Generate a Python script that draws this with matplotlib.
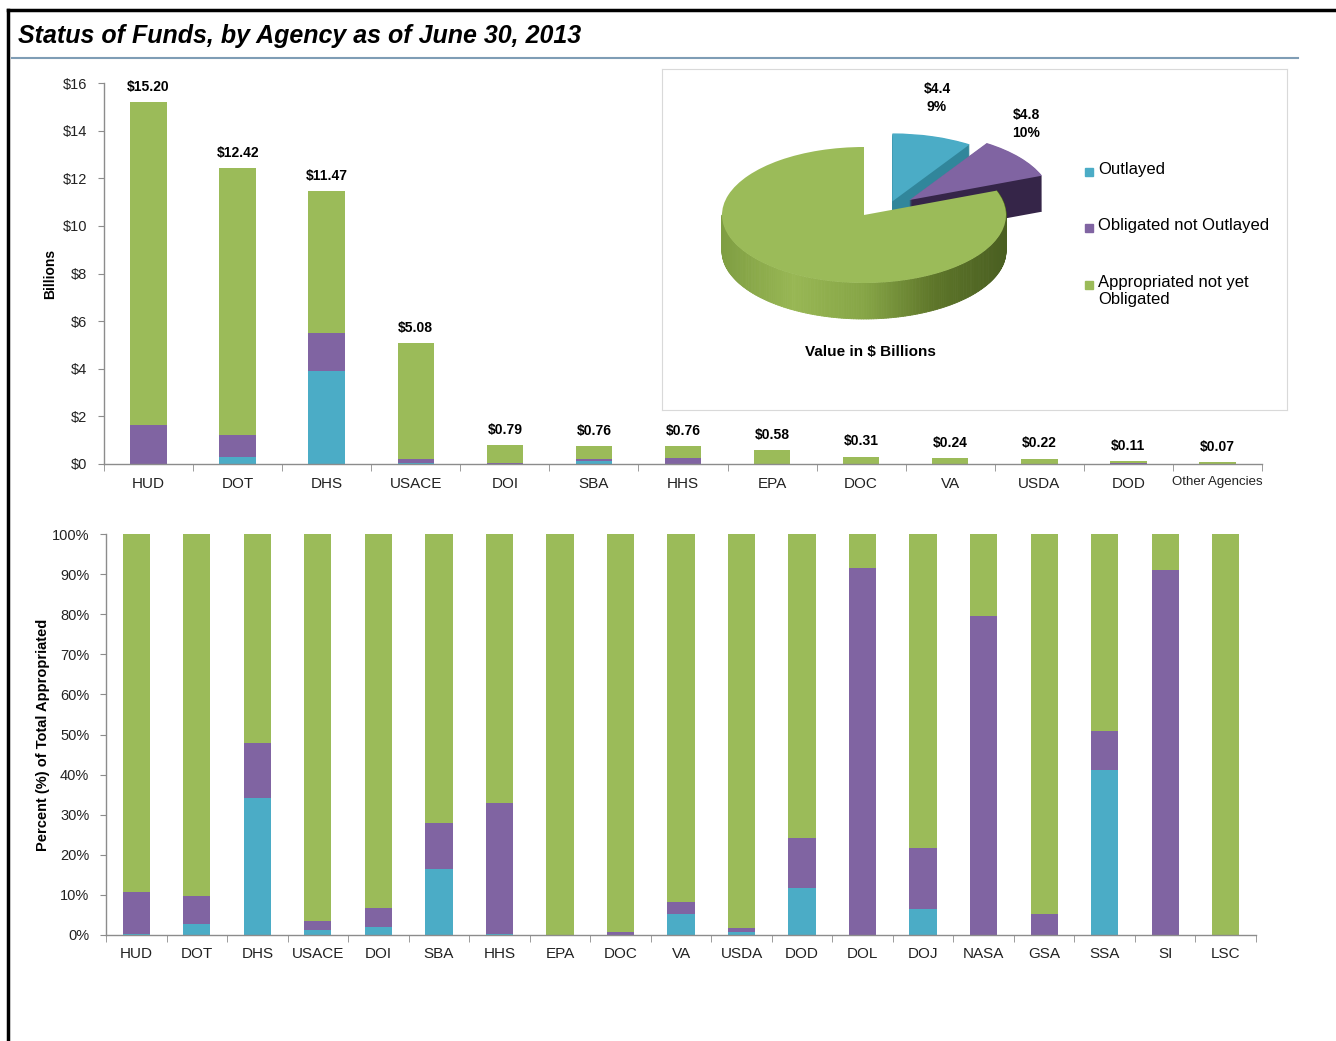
import numpy as np
import matplotlib
matplotlib.use("Agg")
import matplotlib.pyplot as plt
from matplotlib.patches import Wedge, Rectangle
from matplotlib.collections import PolyCollection
from matplotlib.lines import Line2D
from matplotlib.colors import LinearSegmentedColormap

plt.rcParams['font.family'] = ['Liberation Sans', 'DejaVu Sans']

# ---- data ----
top_agencies = ['HUD', 'DOT', 'DHS', 'USACE', 'DOI', 'SBA', 'HHS', 'EPA', 'DOC',
                'VA', 'USDA', 'DOD', 'Other Agencies']
top_total = [15.20, 12.42, 11.47, 5.08, 0.79, 0.76, 0.76, 0.58, 0.31, 0.24, 0.22, 0.11, 0.07]
top_outlayed = [0.02, 0.30, 3.90, 0.06, 0.02, 0.13, 0.0, 0.0, 0.0, 0.01, 0.0, 0.01, 0.0]
top_obligated = [1.63, 0.90, 1.60, 0.13, 0.04, 0.08, 0.25, 0.0, 0.0, 0.01, 0.0, 0.02, 0.0]

pct_agencies = ['HUD', 'DOT', 'DHS', 'USACE', 'DOI', 'SBA', 'HHS', 'EPA', 'DOC', 'VA',
                'USDA', 'DOD', 'DOL', 'DOJ', 'NASA', 'GSA', 'SSA', 'SI', 'LSC']
pct_outlayed = [0.3, 2.7, 34.2, 1.2, 2.0, 16.5, 0.3, 0.0, 0.0, 5.2,
                0.7, 11.7, 0.0, 6.4, 0.0, 0.0, 41.1, 0.0, 0.0]
pct_obligated = [10.4, 7.0, 13.7, 2.3, 4.7, 11.4, 32.6, 0.0, 0.7, 3.0,
                 1.0, 12.5, 91.5, 15.3, 79.5, 5.2, 9.8, 91.0, 0.0]

pie_labels = ['Outlayed', 'Obligated not Outlayed', 'Appropriated not yet\nObligated']
pie_values = [4.4, 4.8, 38.8]

c_out = '#4bacc6'
c_obl = '#8064a2'
c_app = '#9bbb59'
side_cols = ['#31869b', '#352548', '#6f8f35']
axis_col = '#8c8c8c'

W, H = 1336, 1041
fig = plt.figure(figsize=(W / 100, H / 100), dpi=100)


def rect(x0, y0, x1, y1):
    return [x0 / W, 1 - y1 / H, (x1 - x0) / W, (y1 - y0) / H]


# frame + title
fig.add_artist(Line2D([8 / W, 8 / W], [0, 1 - 10 / H], color='black', lw=2.5))
fig.add_artist(Line2D([8 / W, 1], [1 - 10 / H, 1 - 10 / H], color='black', lw=2.5))
fig.add_artist(Line2D([12 / W, 1298 / W], [1 - 58 / H, 1 - 58 / H], color='#7f9db5', lw=1.5))
fig.text(18 / W, 1 - 36 / H, 'Status of Funds, by Agency as of June 30, 2013',
         fontsize=18, fontweight='bold', fontstyle='italic', va='center', ha='left')


def style_axes(ax, n):
    for s in ['top', 'right']:
        ax.spines[s].set_visible(False)
    for s in ['left', 'bottom']:
        ax.spines[s].set_color(axis_col)
        ax.spines[s].set_linewidth(1)
    ax.set_xlim(-0.5, n - 0.5)
    ax.set_xticks(range(n))
    ax.set_xticks(np.arange(-0.5, n, 1), minor=True)
    ax.tick_params(axis='x', which='major', length=0, pad=9, labelsize=11, labelcolor='#222222')
    ax.tick_params(axis='x', which='minor', length=5, color=axis_col)
    ax.tick_params(axis='y', length=4, color=axis_col, labelsize=10.5, pad=8, labelcolor='#222222')


# ---- top chart: billions ----
ax1 = fig.add_axes(rect(104, 83, 1262, 464))
x1 = np.arange(len(top_agencies))
out1 = np.array(top_outlayed)
obl1 = np.array(top_obligated)
app1 = np.array(top_total) - out1 - obl1
ax1.bar(x1, out1, width=0.41, color=c_out)
ax1.bar(x1, obl1, bottom=out1, width=0.41, color=c_obl)
ax1.bar(x1, app1, bottom=out1 + obl1, width=0.41, color=c_app)
for xi, t in zip(x1, top_total):
    ax1.text(xi, t + 0.35, f'${t:.2f}', ha='center', va='bottom',
             fontsize=10, fontweight='bold')
style_axes(ax1, len(top_agencies))
ax1.set_ylim(0, 16)
ax1.set_yticks(range(0, 17, 2))
ax1.set_yticklabels([f'${v}' for v in range(0, 17, 2)])
ax1.set_xticklabels(top_agencies)
ax1.get_xticklabels()[-1].set_fontsize(9.5)
ax1.set_ylabel('Billions', fontsize=10, fontweight='bold', labelpad=4)

# ---- bottom chart: percent ----
ax2 = fig.add_axes(rect(106, 534, 1256, 935))
x2 = np.arange(len(pct_agencies))
out2 = np.array(pct_outlayed)
obl2 = np.array(pct_obligated)
app2 = 100 - out2 - obl2
ax2.bar(x2, out2, width=0.45, color=c_out)
ax2.bar(x2, obl2, bottom=out2, width=0.45, color=c_obl)
ax2.bar(x2, app2, bottom=out2 + obl2, width=0.45, color=c_app)
style_axes(ax2, len(pct_agencies))
ax2.set_ylim(0, 100)
ax2.set_yticks(range(0, 101, 10))
ax2.set_yticklabels([f'{v}%' for v in range(0, 101, 10)])
ax2.set_xticklabels(pct_agencies)
ax2.set_ylabel('Percent (%) of Total Appropriated', fontsize=10.5,
               fontweight='bold', labelpad=1)

# ---- pie inset ----
bx0, by0, bx1, by1 = 662, 69, 1287, 410
box = fig.add_axes(rect(bx0, by0, bx1, by1))
box.set_xlim(0, bx1 - bx0)
box.set_ylim(by1 - by0, 0)
box.set_xticks([])
box.set_yticks([])
for s in box.spines.values():
    s.set_color('#d9d9d9')
box.set_facecolor('white')

# pie drawn in an axes where the unit circle becomes an ellipse
rx, ry, depth_px = 142, 68, 36
pcx, pcy = 864, 215
px0, px1, py0, py1 = 700, 1070, 90, 345
pie_ax = fig.add_axes(rect(px0, py0, px1, py1))
pie_ax.axis('off')
pie_ax.patch.set_alpha(0)

total = sum(pie_values)
explode = [(0.2, 0.2), (0.32, 0.22), (0.0, 0.0)]
tops = [c_out, c_obl, c_app]
depth = depth_px / ry
side_cmap = LinearSegmentedColormap.from_list(
    'side', ['#7f9e42', '#98b754', '#86a546', '#5d7529', '#4a5f21'])
theta = 90.0
for v, (ex, ey), ctop, cside in zip(pie_values, explode, tops, side_cols):
    span = 360.0 * v / total
    t2 = theta
    t1 = theta - span
    theta = t1
    if ctop == c_app:
        # outer rim of the big slice, shaded left to right
        ang = np.radians(np.linspace(180, t2 + 360, 200))
        xs, ys = np.cos(ang) + ex, np.sin(ang) + ey
        quads = []
        for i in range(len(ang) - 1):
            quads.append([(xs[i], ys[i]), (xs[i + 1], ys[i + 1]),
                          (xs[i + 1], ys[i + 1] - depth), (xs[i], ys[i] - depth)])
        shade = side_cmap((xs[:-1] + 1) / 2)
        pie_ax.add_collection(PolyCollection(quads, facecolors=shade,
                                             edgecolors=shade, linewidths=0.6))
    else:
        for d in np.linspace(depth, 0.01, 36):
            pie_ax.add_patch(Wedge((ex, ey - d), 1, t1, t2, color=cside, lw=0))
    pie_ax.add_patch(Wedge((ex, ey), 1, t1, t2, color=ctop, lw=0, zorder=2))
pie_ax.set_xlim(-(pcx - px0) / rx, (px1 - pcx) / rx)
pie_ax.set_ylim(-(py1 - pcy) / ry, (pcy - py0) / ry)

pcts = [v / total * 100 for v in pie_values]
label_pos = [(275, 29), (364, 55), (152, 180)]
for v, p, (lx, ly) in zip(pie_values, pcts, label_pos):
    box.text(lx, ly, f'${v:.1f}\n{p:.0f}%', ha='center', va='center',
             fontsize=10, fontweight='bold', linespacing=1.3, zorder=5)
box.text(208, 283, 'Value in $ Billions', ha='center', va='center',
         fontsize=11, fontweight='bold')

leg_y = [103, 159, 216]
for lab, col, ly in zip(pie_labels, tops, leg_y):
    box.add_patch(Rectangle((423, ly - 4), 8, 8, color=col))
    box.text(436, ly - 10, lab, ha='left', va='top', fontsize=12, linespacing=1.15)

fig.savefig('out.png', dpi=100)
